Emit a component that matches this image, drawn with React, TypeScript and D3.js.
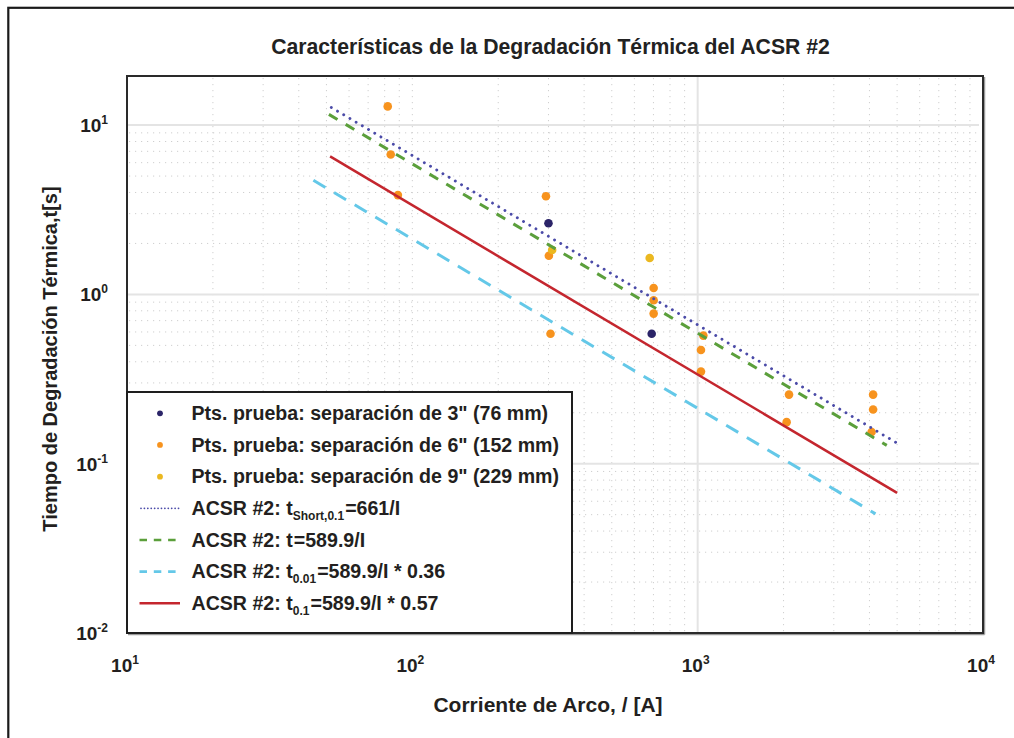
import React from "react";
import * as d3 from "d3";

// ---- data ----
const pts3I = [300, 690];
const pts3T = [2.63, 0.585];
const pts6I = [82, 84, 89, 294, 301, 305, 701, 701, 701, 1047, 1027, 1027, 2090, 2050, 4120, 4120, 4070];
const pts6T = [12.9, 6.7, 3.86, 3.8, 1.69, 0.585, 1.09, 0.924, 0.77, 0.571, 0.469, 0.35, 0.256, 0.176, 0.256, 0.209, 0.154];
const pts9I = [309, 679];
const pts9T = [1.83, 1.64];

// fitted lines t = coef / I * factor, with their drawn current range
const lineShortI = [52, 5100];
const lineMainI = [51, 4600];
const line001I = [45, 4200];
const line01I = [51.5, 5000];
const coefShort = 661;
const coefMain = 589.9;
const factor001 = 0.36;
const factor01 = 0.57;

const xTicks = [10, 100, 1000, 10000];
const yTicks = [0.01, 0.1, 1, 10];

const title = "Características de la Degradación Térmica del ACSR #2";
const xLabel = "Corriente de Arco, / [A]";
const yLabel = "Tiempo de Degradación Térmica,t[s]";

const legendItems = [
  { kind: "pt", color: "#2b2468", main: 'Pts. prueba: separación de 3" (76 mm)', sub: "", rest: "" },
  { kind: "pt", color: "#f7931e", main: 'Pts. prueba: separación de 6" (152 mm)', sub: "", rest: "" },
  { kind: "pt", color: "#ebb820", main: 'Pts. prueba: separación de 9" (229 mm)', sub: "", rest: "" },
  { kind: "dot", color: "#4b4ba8", main: "ACSR #2: t", sub: "Short,0.1", rest: "=661/I" },
  { kind: "dash", color: "#5b9f3b", main: "ACSR #2: t", sub: "", rest: "=589.9/I" },
  { kind: "dash", color: "#64c8e8", main: "ACSR #2: t", sub: "0.01", rest: "=589.9/I * 0.36" },
  { kind: "solid", color: "#c4262e", main: "ACSR #2: t", sub: "0.1", rest: "=589.9/I * 0.57" },
];

const FONT = "'Liberation Sans', Arial, Helvetica, sans-serif";

export default function App() {
  const W = 1014, H = 738;
  const L = 127, R = 983, T = 76, B = 633;
  const x = d3.scaleLog().domain([10, 10000]).range([L, R]);
  const y = d3.scaleLog().domain([0.01, 19.5]).range([B, T]);

  const minorX: number[] = [];
  [10, 100, 1000].forEach((d) => {
    for (let m = 2; m <= 9; m++) minorX.push(d * m);
  });
  minorX.push(100);
  const minorY: number[] = [];
  [0.01, 0.1, 1].forEach((d) => {
    for (let m = 2; m <= 9; m++) minorY.push(d * m);
  });
  const majorY = [0.1, 1, 10];
  const majorX = [1000];

  const seg = (Is: number[], coef: number, f: number) => {
    const p = d3.line<number>().x((d) => x(d)).y((d) => y((coef / d) * f));
    return p(Is) || "";
  };

  const fitLines = [
    { d: seg(lineShortI, coefShort, 1), color: "#4b4ba8", dash: "0.01,7.2", w: 2.9, cap: "round" },
    { d: seg(lineMainI, coefMain, 1), color: "#5b9f3b", dash: "10,9.5", w: 3, cap: "butt" },
    { d: seg(line001I, coefMain, factor001), color: "#64c8e8", dash: "14,10", w: 3, cap: "butt" },
    { d: seg(line01I, coefMain, factor01), color: "#c4262e", dash: "", w: 2.5, cap: "butt" },
  ];

  const points = [
    { I: pts3I, t: pts3T, color: "#2b2468" },
    { I: pts6I, t: pts6T, color: "#f7931e" },
    { I: pts9I, t: pts9T, color: "#ebb820" },
  ];

  const legX = 127, legY = 392, legW = 445, legH = B - 392;
  const legBase0 = 420, legStep = 31.67;

  return (
    <svg
      width={W}
      height={H}
      style={{ position: "absolute", left: 0, top: 0, display: "block" }}
      fontFamily={FONT}
    >
      <rect x={0} y={0} width={W} height={H} fill="#fff" />
      {/* outer figure border */}
      <rect x={8.3} y={7.8} width={1200} height={1000} fill="none" stroke="#1a1a1a" strokeWidth={2.2} />

      {/* title */}
      <text x={550.5} y={54} textAnchor="middle" fontSize={21.2} fontWeight="bold" fill="#222">
        {title}
      </text>

      {/* minor grid */}
      <g stroke="#cfcfcf" strokeWidth={1} strokeDasharray="1.2,4.8">
        {minorX.map((v, i) => (
          <line key={"mx" + i} x1={x(v)} x2={x(v)} y1={T + 2} y2={B - 1} />
        ))}
        {minorY.map((v, i) => (
          <line key={"my" + i} x1={L + 2} x2={R - 2} y1={y(v)} y2={y(v)} />
        ))}
      </g>
      {/* major grid */}
      <g stroke="#e4e4e4" strokeWidth={2}>
        {majorY.map((v, i) => (
          <line key={"My" + i} x1={L + 1} x2={R - 4} y1={y(v)} y2={y(v)} />
        ))}
        {majorX.map((v, i) => (
          <line key={"Mx" + i} x1={x(v)} x2={x(v)} y1={T + 1} y2={B - 1} />
        ))}
      </g>

      {/* data points */}
      {points.map((s, si) =>
        s.I.map((I, i) => (
          <circle key={si + "-" + i} cx={x(I)} cy={y(s.t[i])} r={4.3} fill={s.color} />
        ))
      )}

      {/* fitted lines */}
      {fitLines.map((l, i) => (
        <path
          key={"fl" + i}
          d={l.d}
          fill="none"
          stroke={l.color}
          strokeWidth={l.w}
          strokeDasharray={l.dash || undefined}
          strokeLinecap={l.cap as any}
        />
      ))}

      {/* plot frame */}
      <line x1={R + 1.5} x2={R + 1.5} y1={T + 1} y2={B + 1.5} stroke="#9a9a9a" strokeWidth={1.5} />
      <line x1={L + 1} x2={R + 1.5} y1={B + 1.5} y2={B + 1.5} stroke="#9a9a9a" strokeWidth={1.5} />
      <rect x={L} y={T} width={R - L} height={B - T} fill="none" stroke="#2a2a2a" strokeWidth={2} />

      {/* legend */}
      <rect x={legX} y={legY} width={legW} height={legH} fill="#fff" stroke="#1e1e1e" strokeWidth={2} />
      {legendItems.map((it, i) => {
        const base = legBase0 + i * legStep;
        const cy = base - 6.7;
        let sample: React.ReactNode = null;
        if (it.kind === "pt") sample = <circle cx={160} cy={cy} r={2.9} fill={it.color} />;
        else if (it.kind === "dot")
          sample = (
            <line x1={141} x2={180} y1={cy} y2={cy} stroke={it.color} strokeWidth={1.8}
              strokeDasharray="0.01,3.4" strokeLinecap="round" />
          );
        else if (it.kind === "dash")
          sample = (
            <line x1={139.5} x2={180} y1={cy} y2={cy} stroke={it.color} strokeWidth={2.6}
              strokeDasharray="7.5,6.8" />
          );
        else sample = <line x1={139.5} x2={180} y1={cy} y2={cy} stroke={it.color} strokeWidth={2.5} />;
        return (
          <g key={"lg" + i}>
            {sample}
            <text x={191.5} y={base} fontSize={19.6} fontWeight="bold" fill="#231f20">
              {it.main}
              {it.sub ? (
                <tspan fontSize={12} dy={5}>{it.sub}</tspan>
              ) : null}
              {it.sub ? <tspan dy={-5} dx={1}>{it.rest}</tspan> : it.rest ? <tspan dx={1}>{it.rest}</tspan> : null}
            </text>
          </g>
        );
      })}

      {/* x tick labels */}
      {xTicks.map((v, i) => (
        <text key={"xt" + i} x={x(v) - 2} y={672} textAnchor="middle" fontSize={19} fontWeight="bold" fill="#231f20">
          10<tspan fontSize={12} dy={-8}>{Math.round(Math.log10(v))}</tspan>
        </text>
      ))}
      {/* y tick labels */}
      {yTicks.map((v, i) => (
        <text key={"yt" + i} x={108} y={y(v) + 7} textAnchor="end" fontSize={19} fontWeight="bold" fill="#231f20">
          10<tspan fontSize={12} dy={-8}>{Math.round(Math.log10(v))}</tspan>
        </text>
      ))}

      {/* axis labels */}
      <text x={548} y={712} textAnchor="middle" fontSize={21} fontWeight="bold" fill="#231f20">
        {xLabel}
      </text>
      <text
        transform={`translate(57,359) rotate(-90)`}
        textAnchor="middle"
        fontSize={20}
        fontWeight="bold"
        fill="#231f20"
      >
        {yLabel}
      </text>
    </svg>
  );
}
